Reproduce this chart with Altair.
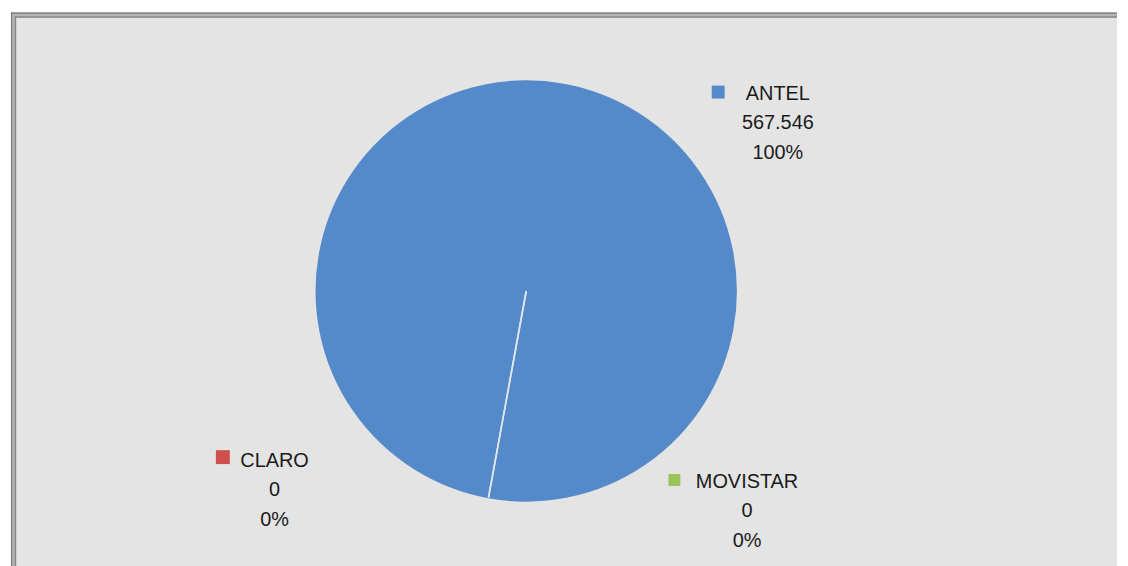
import altair as alt
import pandas as pd

# Data
companies = ["ANTEL", "CLARO", "MOVISTAR"]
values = [567546, 0, 0]
colors = ["#558ACA", "#CF4F4C", "#9BC35A"]

total = sum(values)

def fmt_num(v):
    return f"{v:,}".replace(",", ".")

pcts = [f"{round(100 * v / total)}%" for v in values]

pie_df = pd.DataFrame({
    "company": companies,
    "value": values,
    "order": list(range(len(companies))),
    "is_zero": [v == 0 for v in values],
})

# Label placement (annotation layout, in view pixels)
label_x = [771, 265, 740]
label_y = [88, 457, 478]
key_x = [711, 213, 667]
key_y = [80, 447, 470]
key_size = [169, 196, 144]

W, H = 1112, 560

label_df = pd.DataFrame({
    "company": companies,
    "label": [f"{c}\n{fmt_num(v)}\n{p}" for c, v, p in zip(companies, values, pcts)],
    "lx": label_x,
    "ly": label_y,
    "kx": key_x,
    "ky": key_y,
    "ks": key_size,
})

color_scale = alt.Scale(domain=companies, range=colors)

pie = alt.Chart(pie_df).mark_arc(
    radius=211,
    thetaOffset=3.322,
    strokeWidth=1.6,
).encode(
    theta=alt.Theta("value:Q", stack=True),
    order=alt.Order("order:Q"),
    color=alt.Color("company:N", scale=color_scale, legend=None),
    stroke=alt.condition(alt.datum.is_zero, alt.value("#dfe6f0"), alt.value("#558ACA")),
    x=alt.value(518),
    y=alt.value(280),
)

keys = alt.Chart(label_df).mark_square(opacity=1, filled=True).encode(
    x=alt.X("kx:Q", scale=None, axis=None),
    y=alt.Y("ky:Q", scale=None, axis=None),
    size=alt.Size("ks:Q", scale=None, legend=None),
    color=alt.Color("company:N", scale=color_scale, legend=None),
)

labels = alt.Chart(label_df).mark_text(
    font="Liberation Sans",
    fontSize=20,
    color="#1a1a1a",
    align="center",
    baseline="alphabetic",
    lineBreak="\n",
    lineHeight=29.5,
).encode(
    x=alt.X("lx:Q", scale=None, axis=None),
    y=alt.Y("ly:Q", scale=None, axis=None),
    text="label:N",
)

# Double-line frame (top and left edges)
frame_base = alt.Chart(pd.DataFrame({"a": [0]}))
frame = alt.layer(
    frame_base.mark_rule(color="#b4b4b4", strokeWidth=5).encode(
        x=alt.value(0), x2=alt.value(W), y=alt.value(2.5)),
    frame_base.mark_rule(color="#b4b4b4", strokeWidth=5).encode(
        y=alt.value(0), y2=alt.value(H), x=alt.value(2.5)),
    frame_base.mark_rule(color="#7a7a7a", strokeWidth=1.2).encode(
        x=alt.value(0), x2=alt.value(W), y=alt.value(0.6)),
    frame_base.mark_rule(color="#7a7a7a", strokeWidth=1.2).encode(
        y=alt.value(0), y2=alt.value(H), x=alt.value(0.6)),
    frame_base.mark_rule(color="#888888", strokeWidth=1.5).encode(
        x=alt.value(4), x2=alt.value(W), y=alt.value(4.5)),
    frame_base.mark_rule(color="#888888", strokeWidth=1.5).encode(
        y=alt.value(4), y2=alt.value(H), x=alt.value(4.5)),
)

chart = alt.layer(pie, keys, labels, frame).properties(
    width=W,
    height=H,
    padding=0,
    background="#ffffff",
).configure_view(
    fill="#e4e4e4",
    stroke=None,
)

chart.save("out.html", embed_options={"renderer": "svg", "actions": False})
